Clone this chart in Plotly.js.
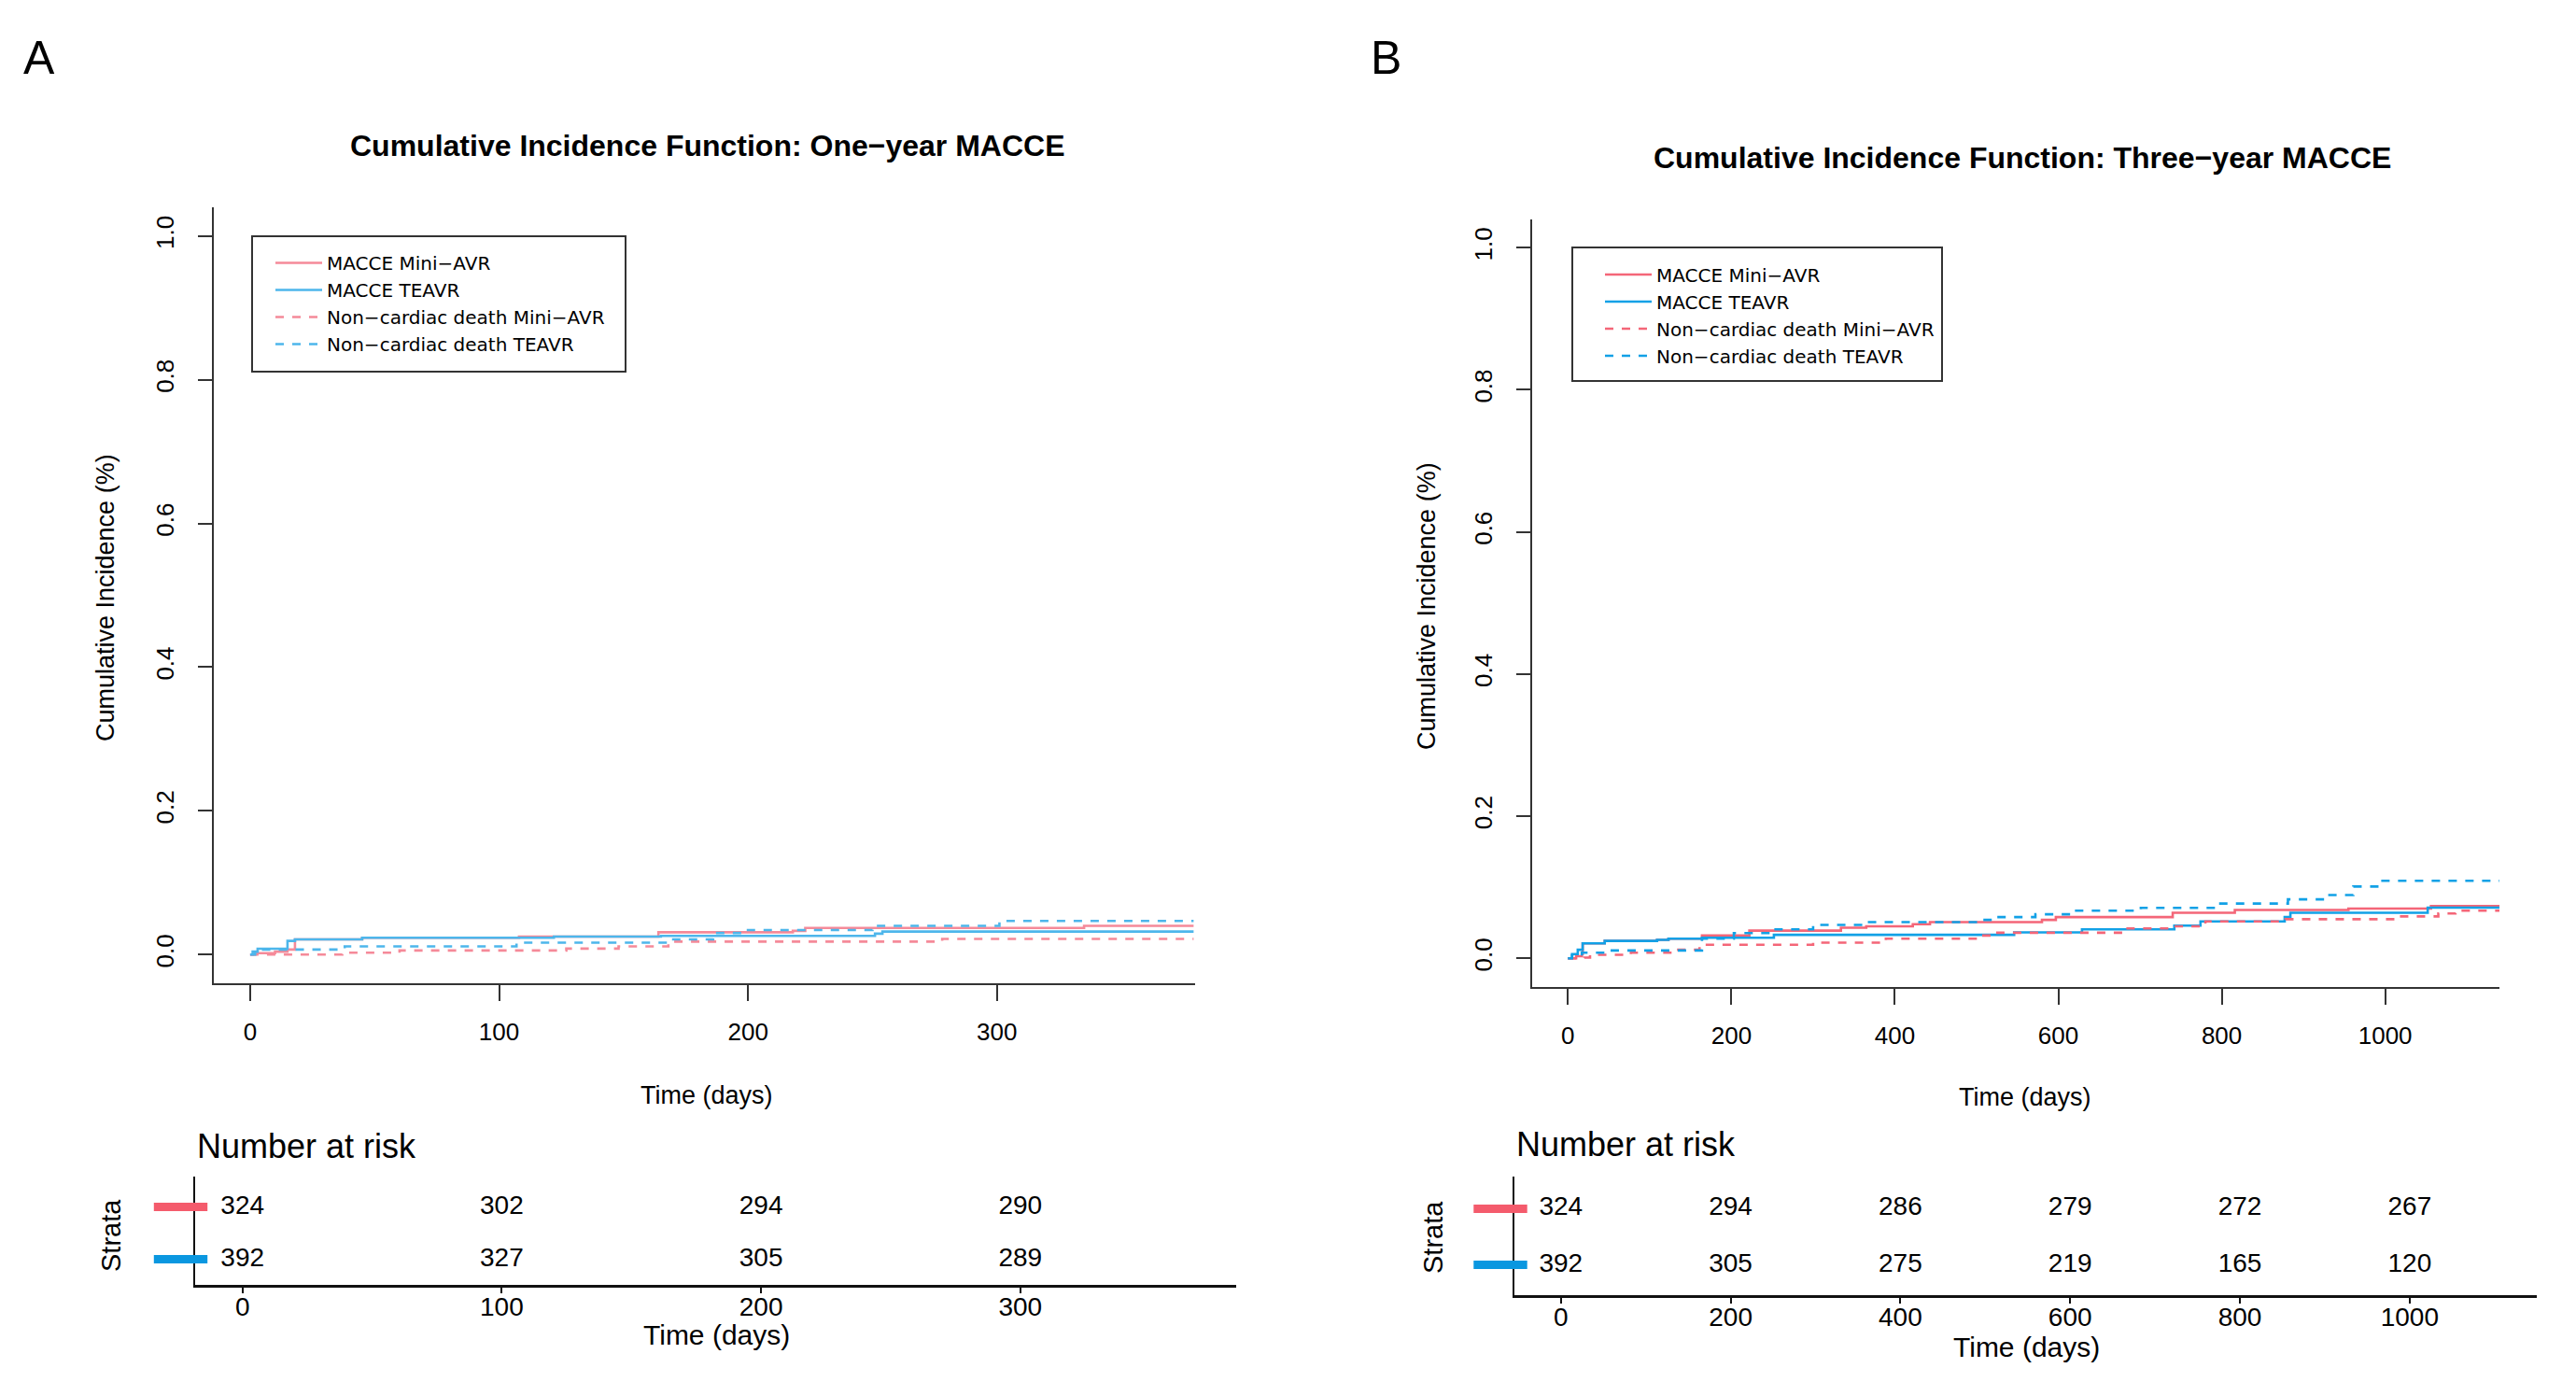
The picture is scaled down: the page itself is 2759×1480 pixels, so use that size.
<!DOCTYPE html>
<html>
<head>
<meta charset="utf-8">
<script src="https://cdn.plot.ly/plotly-3.0.1.min.js"></script>
<style>html,body{margin:0;padding:0;background:#fff}#chart{width:2759px;height:1480px}</style>
</head>
<body>
<div id="chart"></div>
<script>
// ---------- Panel A: one-year MACCE (cumulative incidence) ----------
const aMacceMiniT = [0, 2, 10, 15, 18, 45, 108, 164, 218, 223, 335, 379];
const aMacceMiniY = [0, 0.002, 0.004, 0.007, 0.021, 0.0234, 0.025, 0.031, 0.033, 0.037, 0.040, 0.040];
const aMacceTeavrT = [0, 1, 3, 15, 18, 45, 122, 165, 251, 254, 379];
const aMacceTeavrY = [0, 0.004, 0.008, 0.019, 0.021, 0.0234, 0.025, 0.026, 0.029, 0.032, 0.032];
const aDeathMiniT = [0, 37, 60, 127, 148, 168, 278, 379];
const aDeathMiniY = [0, 0.0026, 0.0056, 0.0082, 0.0113, 0.018, 0.0217, 0.0217];
const aDeathTeavrT = [0, 2, 38, 107, 169, 186, 198, 250, 301, 379];
const aDeathTeavrY = [0, 0.007, 0.0113, 0.0165, 0.021, 0.030, 0.034, 0.040, 0.0468, 0.0468];

// ---------- Panel B: three-year MACCE ----------
const bMacceMiniT = [0, 10, 17, 18, 45, 109, 123, 164, 222, 334, 365, 422, 443, 580, 597, 740, 816, 955, 1056, 1140];
const bMacceMiniY = [0, 0.003, 0.006, 0.021, 0.0245, 0.026, 0.0276, 0.032, 0.039, 0.043, 0.045, 0.048, 0.051, 0.054, 0.058, 0.064, 0.068, 0.070, 0.0736, 0.0736];
const bMacceTeavrT = [0, 5, 12, 18, 45, 109, 123, 164, 252, 546, 629, 742, 774, 877, 884, 1052, 1140];
const bMacceTeavrY = [0, 0.006, 0.012, 0.021, 0.0245, 0.026, 0.0276, 0.029, 0.033, 0.0364, 0.0407, 0.046, 0.052, 0.058, 0.064, 0.0713, 0.0713];
const bDeathMiniT = [0, 20, 27, 77, 127, 161, 170, 300, 389, 504, 519, 683, 736, 780, 878, 1018, 1065, 1086, 1140];
const bDeathMiniY = [0, 0.001, 0.005, 0.0079, 0.012, 0.016, 0.019, 0.022, 0.0276, 0.032, 0.036, 0.042, 0.045, 0.052, 0.055, 0.059, 0.063, 0.067, 0.067];
const bDeathTeavrT = [0, 5, 17, 45, 164, 203, 250, 300, 361, 504, 519, 572, 618, 701, 795, 881, 926, 961, 995, 1140];
const bDeathTeavrY = [0, 0.004, 0.0079, 0.011, 0.0276, 0.0355, 0.0407, 0.047, 0.051, 0.054, 0.058, 0.062, 0.067, 0.071, 0.077, 0.083, 0.089, 0.101, 0.109, 0.109];

// ---------- Numbers at risk ----------
const strata = ['Mini\u2212AVR', 'TEAVR'];
const riskTimesA = [0, 100, 200, 300];
const riskMiniA = [324, 302, 294, 290];
const riskTeavrA = [392, 327, 305, 289];
const riskTimesB = [0, 200, 400, 600, 800, 1000];
const riskMiniB = [324, 294, 286, 279, 272, 267];
const riskTeavrB = [392, 305, 275, 219, 165, 120];

// ---------- Labels ----------
const seriesNames = ['MACCE Mini\u2212AVR', 'MACCE TEAVR', 'Non\u2212cardiac death Mini\u2212AVR', 'Non\u2212cardiac death TEAVR'];
const titleA = 'Cumulative Incidence Function: One\u2212year MACCE';
const titleB = 'Cumulative Incidence Function: Three\u2212year MACCE';
const yTicks = [0, 0.2, 0.4, 0.6, 0.8, 1.0];
const xTicksA = [0, 100, 200, 300];
const xTicksB = [0, 200, 400, 600, 800, 1000];

// ---------- Styling ----------
const W = 2759, H = 1480;
const FONT = 'Liberation Sans, Arial, Helvetica, sans-serif';
const LEGEND_FONT = 'DejaVu Sans, Liberation Sans, Arial, sans-serif';
const px = v => v / W;
const py = v => 1 - v / H;
const RED_A = '#F58A99', BLUE_A = '#4DB6EB';
const RED_B = '#F46678', BLUE_B = '#12A1E6';
const BAR_RED = '#F45B6C', BAR_BLUE = '#0A97E0';

function curve(x, y, name, color, dash, xa, ya, legend) {
  return {type: 'scatter', mode: 'lines', x: x, y: y, name: name, xaxis: xa, yaxis: ya,
    legend: legend, line: {color: color, width: 2.6, dash: dash, shape: 'hv'}, hoverinfo: 'skip'};
}
function riskRow(times, vals, stratum, xa, ya) {
  return {type: 'scatter', mode: 'text', x: times, y: times.map(() => stratum), text: vals.map(String),
    textposition: 'middle center', textfont: {family: FONT, size: 28, color: '#000'},
    xaxis: xa, yaxis: ya, showlegend: false, cliponaxis: false, hoverinfo: 'skip'};
}
// colour keys of the strata, drawn in a small hidden key subplot beside each risk table
function strataBars(xa, ya) {
  return {type: 'scatter', mode: 'markers', x: strata.map(() => 0.5), y: strata, xaxis: xa, yaxis: ya,
    marker: {symbol: 'line-ew', size: 41, color: [BAR_RED, BAR_BLUE], line: {width: 9, color: [BAR_RED, BAR_BLUE]}},
    showlegend: false, cliponaxis: false, hoverinfo: 'skip'};
}

const traces = [
  curve(aMacceMiniT, aMacceMiniY, seriesNames[0], RED_A, 'solid', 'x', 'y', 'legend'),
  curve(aMacceTeavrT, aMacceTeavrY, seriesNames[1], BLUE_A, 'solid', 'x', 'y', 'legend'),
  curve(aDeathMiniT, aDeathMiniY, seriesNames[2], RED_A, 'dash', 'x', 'y', 'legend'),
  curve(aDeathTeavrT, aDeathTeavrY, seriesNames[3], BLUE_A, 'dash', 'x', 'y', 'legend'),
  curve(bMacceMiniT, bMacceMiniY, seriesNames[0], RED_B, 'solid', 'x3', 'y3', 'legend2'),
  curve(bMacceTeavrT, bMacceTeavrY, seriesNames[1], BLUE_B, 'solid', 'x3', 'y3', 'legend2'),
  curve(bDeathMiniT, bDeathMiniY, seriesNames[2], RED_B, 'dash', 'x3', 'y3', 'legend2'),
  curve(bDeathTeavrT, bDeathTeavrY, seriesNames[3], BLUE_B, 'dash', 'x3', 'y3', 'legend2'),
  strataBars('x5', 'y5'),
  riskRow(riskTimesA, riskMiniA, strata[0], 'x2', 'y2'),
  riskRow(riskTimesA, riskTeavrA, strata[1], 'x2', 'y2'),
  strataBars('x6', 'y6'),
  riskRow(riskTimesB, riskMiniB, strata[0], 'x4', 'y4'),
  riskRow(riskTimesB, riskTeavrB, strata[1], 'x4', 'y4')
];

const mainX = (dom, range, ticks, anchor) => ({
  domain: dom, range: range, anchor: anchor, tickvals: ticks, ticks: 'outside', ticklen: 17, tickwidth: 2,
  tickcolor: '#333', showline: true, linecolor: '#333', linewidth: 2, showgrid: false, zeroline: false,
  tickfont: {family: FONT, size: 26, color: '#000'}, ticklabelstandoff: 11, fixedrange: true
});
const mainY = (dom, anchor) => ({
  domain: dom, range: [-0.04, 1.04], anchor: anchor, tickvals: yTicks, tickformat: '.1f', tickangle: -90,
  ticks: 'outside', ticklen: 15, tickwidth: 2, tickcolor: '#333', showline: true, linecolor: '#333',
  linewidth: 2, showgrid: false, zeroline: false, tickfont: {family: FONT, size: 26, color: '#000'},
  ticklabelstandoff: 16, fixedrange: true
});
const riskX = (dom, range, ticks, anchor, standoff) => ({
  domain: dom, range: range, anchor: anchor, tickvals: ticks, ticks: 'outside', ticklen: 6, tickwidth: 2,
  tickcolor: '#111', showline: true, linecolor: '#111', linewidth: 2.5, showgrid: false, zeroline: false,
  tickfont: {family: FONT, size: 28, color: '#000'}, ticklabelstandoff: standoff, fixedrange: true
});
const riskY = (dom, range, anchor, visible) => ({
  domain: dom, anchor: anchor, type: 'category', categoryorder: 'array', categoryarray: strata.slice().reverse(),
  range: range, showticklabels: false, ticks: '', showline: visible, linecolor: '#111', linewidth: 2.5,
  showgrid: false, zeroline: false, fixedrange: true, visible: visible
});
const keyX = (dom, anchor) => ({domain: dom, anchor: anchor, range: [0, 1], visible: false, fixedrange: true});

function ann(text, x, y, size, opts) {
  return Object.assign({text: text, x: px(x), y: py(y), xref: 'paper', yref: 'paper', showarrow: false,
    xanchor: 'center', yanchor: 'middle', font: {family: FONT, size: size, color: '#000'}}, opts || {});
}

const legendBase = {xanchor: 'left', yanchor: 'top', bgcolor: 'rgba(0,0,0,0)', borderwidth: 0,
  font: {family: LEGEND_FONT, size: 20, color: '#000'}, itemwidth: 50, tracegroupgap: 0};

const riskDomA = [py(1376), py(1259.5)], riskRangeA = [-0.49, 1.59];
const riskDomB = [py(1387), py(1259.5)], riskRangeB = [-0.54, 1.58];

const layout = {
  width: W, height: H, margin: {l: 0, r: 0, t: 0, b: 0}, paper_bgcolor: '#fff', plot_bgcolor: 'rgba(0,0,0,0)',
  showlegend: true,
  xaxis: mainX([px(229), px(1280)], [-14.6, 379.6], xTicksA, 'y'),
  yaxis: mainY([py(1053), py(222)], 'x'),
  xaxis2: riskX([px(209), px(1324)], [-18.25, 383.25], xTicksA, 'y2', -9),
  yaxis2: riskY(riskDomA, riskRangeA, 'x2', true),
  xaxis3: mainX([px(1641), px(2677)], [-43.8, 1139.8], xTicksB, 'y3'),
  yaxis3: mainY([py(1056.7), py(234.8)], 'x3'),
  xaxis4: riskX([px(1622), px(2717)], [-54.75, 1149.75], xTicksB, 'y4', -9),
  yaxis4: riskY(riskDomB, riskRangeB, 'x4', true),
  xaxis5: keyX([px(150), px(237)], 'y5'),
  yaxis5: riskY(riskDomA, riskRangeA, 'x5', false),
  xaxis6: keyX([px(1562), px(1652)], 'y6'),
  yaxis6: riskY(riskDomB, riskRangeB, 'x6', false),
  legend: Object.assign({x: px(290), y: py(262)}, legendBase),
  legend2: Object.assign({x: px(1714), y: py(274.5)}, legendBase),
  shapes: [
    {type: 'rect', xref: 'paper', yref: 'paper', x0: px(270), x1: px(670), y0: py(253), y1: py(398), line: {color: '#333', width: 2}},
    {type: 'rect', xref: 'paper', yref: 'paper', x0: px(1684), x1: px(2080), y0: py(265), y1: py(408), line: {color: '#333', width: 2}}
  ],
  annotations: [
    ann('A', 42, 62, 50),
    ann('B', 1484, 62, 50),
    ann('<b>' + titleA + '</b>', 757, 156, 32),
    ann('<b>' + titleB + '</b>', 2166, 169, 32),
    ann('Time (days)', 757, 1173, 27),
    ann('Time (days)', 2169, 1175, 27),
    ann('Cumulative Incidence (%)', 113, 640, 27, {textangle: -90}),
    ann('Cumulative Incidence (%)', 1528, 649, 27, {textangle: -90}),
    ann('Number at risk', 209, 1227, 36, {xanchor: 'left'}),
    ann('Number at risk', 1622, 1225, 36, {xanchor: 'left'}),
    ann('Strata', 119, 1323, 29, {textangle: -90}),
    ann('Strata', 1535, 1325, 29, {textangle: -90}),
    ann('Time (days)', 767, 1429, 30),
    ann('Time (days)', 2170, 1442, 30)
  ]
};

Plotly.newPlot('chart', traces, layout, {staticPlot: true, displayModeBar: false});
</script>
</body>
</html>
